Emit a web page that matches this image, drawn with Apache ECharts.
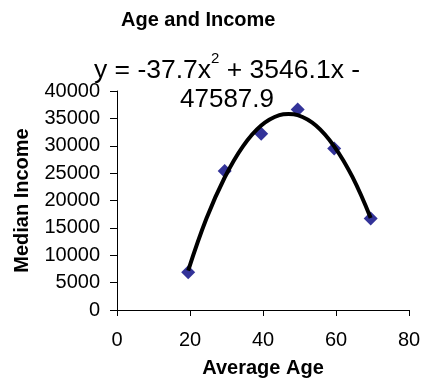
<!DOCTYPE html>
<html>
<head>
<meta charset="utf-8">
<script src="https://cdn.jsdelivr.net/npm/echarts@6/dist/echarts.min.js"></script>
<style>
  html, body { margin: 0; padding: 0; background: #fff; }
  #chart { width: 421px; height: 380px; }
</style>
</head>
<body>
<div id="chart"></div>
<script>
// observed points
const ages = [19.5, 29.5, 39.5, 49.5, 59.5, 69.5];
const incomes = [6900, 25400, 32200, 36600, 29500, 16700];

// trendline
const trendAges = [19.5, 24.5, 29.5, 34.5, 39.5, 44.5, 47, 49.5, 54.5, 59.5, 64.5, 69.5];
const trendIncomes = [7200, 16700, 24200, 29900, 33700, 35600, 35800, 35600, 33700, 29900, 24300, 16800];

const xTicks = [0, 20, 40, 60, 80];
const yTicks = [0, 5000, 10000, 15000, 20000, 25000, 30000, 35000, 40000];

const font = 'Liberation Sans, Arial, sans-serif';

const chart = echarts.init(document.getElementById('chart'), null, { renderer: 'canvas' });

const option = {
    animation: false,
    backgroundColor: '#fff',
    title: {
        text: 'Age and Income',
        left: 121,
        top: 10,
        padding: 0,
        textStyle: { fontFamily: font, fontSize: 20, fontWeight: 'bold', color: '#000' }
    },
    grid: { left: 117, right: 12, top: 91, bottom: 70, containLabel: false, outerBoundsMode: 'none' },
    xAxis: {
        type: 'value',
        min: xTicks[0],
        max: xTicks[xTicks.length - 1],
        interval: 20,
        name: 'Average Age',
        nameLocation: 'middle',
        nameGap: 48,
        nameTextStyle: { fontFamily: font, fontSize: 20, fontWeight: 'bold', color: '#000' },
        axisLine: { onZero: false, lineStyle: { color: '#000', width: 1 } },
        axisTick: { length: 6, lineStyle: { color: '#000' } },
        axisLabel: { fontFamily: font, fontSize: 20, color: '#000', margin: 20 },
        splitLine: { show: false }
    },
    yAxis: {
        type: 'value',
        min: yTicks[0],
        max: yTicks[yTicks.length - 1],
        interval: 5000,
        name: 'Median Income',
        nameLocation: 'middle',
        nameGap: 85,
        nameTextStyle: { fontFamily: font, fontSize: 20, fontWeight: 'bold', color: '#000' },
        axisLine: { show: true, lineStyle: { color: '#000', width: 1 } },
        axisTick: { show: true, length: 7, lineStyle: { color: '#000' } },
        axisLabel: { fontFamily: font, fontSize: 20, color: '#000', margin: 17, formatter: v => String(v) },
        splitLine: { show: false }
    },
    graphic: [
        {
            type: 'text',
            x: 227,
            y: 71,
            style: {
                text: '{n|y = -37.7x}{s|2}{n| + 3546.1x -}',
                align: 'center',
                verticalAlign: 'middle',
                rich: {
                    n: { fontFamily: font, fontSize: 26.5, lineHeight: 40, fill: '#000', verticalAlign: 'middle' },
                    s: { fontFamily: font, fontSize: 15, lineHeight: 15, fill: '#000', verticalAlign: 'top' }
                }
            }
        },
        {
            type: 'text',
            x: 227,
            y: 100,
            style: {
                text: '47587.9',
                align: 'center',
                verticalAlign: 'middle',
                font: '26px ' + font,
                fill: '#000'
            }
        }
    ],
    series: [
        {
            type: 'scatter',
            symbol: 'diamond',
            symbolSize: 14,
            itemStyle: { color: '#000080' },
            data: ages.map((a, i) => [a, incomes[i]]),
            z: 2
        },
        {
            type: 'line',
            smooth: 0.4,
            showSymbol: false,
            lineStyle: { color: '#000', width: 4 },
            data: trendAges.map((a, i) => [a, trendIncomes[i]]),
            z: 3
        }
    ]
};

chart.setOption(option);
</script>
</body>
</html>
